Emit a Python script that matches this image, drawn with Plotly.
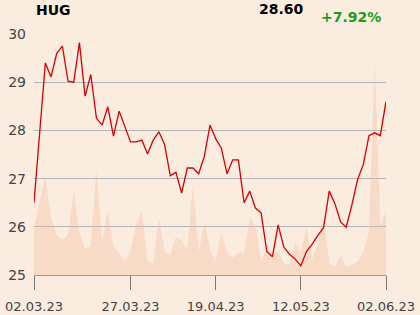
import plotly.graph_objects as go

symbol = "HUG"
price = [26.50, 27.92, 29.40, 29.11, 29.60, 29.75, 29.02, 29.00, 29.82, 28.71,
         29.16, 28.25, 28.11, 28.49, 27.88, 28.40, 28.07, 27.76, 27.76, 27.80,
         27.51, 27.80, 27.97, 27.71, 27.06, 27.13, 26.70, 27.22, 27.22, 27.10,
         27.46, 28.11, 27.83, 27.63, 27.10, 27.39, 27.39, 26.50, 26.74, 26.39,
         26.29, 25.49, 25.38, 26.04, 25.58, 25.43, 25.33, 25.19, 25.49, 25.64,
         25.82, 25.98, 26.74, 26.48, 26.10, 25.99, 26.46, 26.98, 27.29, 27.89,
         27.95, 27.89, 28.60]
volume = [48, 74, 99, 57, 39, 35, 40, 83, 42, 26,
          29, 105, 33, 64, 28, 22, 14, 24, 51, 63,
          14, 12, 57, 23, 20, 38, 34, 25, 91, 22,
          53, 25, 14, 42, 23, 17, 23, 22, 58, 48,
          14, 24, 19, 25, 12, 10, 32, 23, 47, 16,
          32, 59, 11, 9, 19, 8, 10, 14, 22, 43,
          215, 50, 63]
tick_pos = [0, 17, 32, 47, 62]
tick_labels = ["02.03.23", "27.03.23", "19.04.23", "12.05.23", "02.06.23"]
y_ticks = [25, 26, 27, 28, 29, 30]

idx = list(range(len(price)))
last = price[-1]
pct = (price[-1] / price[0] - 1) * 100

BG = "#FBECE0"
FONT = "DejaVu Sans"

fig = go.Figure()
fig.add_trace(go.Scatter(
    x=idx, y=volume, yaxis="y", mode="lines", line=dict(width=0),
    fill="tozeroy", fillcolor="rgba(240,188,154,0.36)", hoverinfo="skip",
))
fig.add_trace(go.Scatter(
    x=idx, y=price, yaxis="y2", mode="lines",
    line=dict(color="#D50000", width=1.3),
))

fig.update_layout(
    width=420, height=315,
    margin=dict(l=34, r=34, t=34, b=40),
    paper_bgcolor=BG, plot_bgcolor=BG,
    showlegend=False,
    font=dict(family=FONT, size=13, color="#444"),
    xaxis=dict(
        range=[0, len(price) - 1], tickvals=tick_pos, ticktext=tick_labels,
        showgrid=False, zeroline=False, ticks="outside", ticklen=14,
        tickcolor="#777", showline=True, linecolor="#999", linewidth=1,
        ticklabelstandoff=5,
        tickfont=dict(family=FONT, size=13, color="#444"), automargin=False,
    ),
    yaxis=dict(range=[0, 240], visible=False, showgrid=False, zeroline=False,
               automargin=False),
    yaxis2=dict(
        overlaying="y", side="left", range=[25, 30], tickvals=y_ticks,
        showgrid=True, gridcolor="#B4B4B4", gridwidth=1, zeroline=False,
        showline=False, ticks="", ticklabelstandoff=7, automargin=False,
        tickfont=dict(family=FONT, size=14, color="#444"),
    ),
    annotations=[
        dict(text="<b>%s</b>" % symbol, xref="paper", yref="paper", x=0, y=1,
             xanchor="left", yanchor="middle", yshift=24, showarrow=False,
             font=dict(family=FONT, size=14, color="#000")),
        dict(text="<b>%.2f</b>" % last, xref="paper", yref="paper", x=0.703, y=1,
             xanchor="center", yanchor="middle", yshift=25, showarrow=False,
             font=dict(family=FONT, size=14, color="#000")),
        dict(text="<b>%+.2f%%</b>" % pct, xref="paper", yref="paper", x=0.9, y=1,
             xanchor="center", yanchor="middle", yshift=17, showarrow=False,
             font=dict(family=FONT, size=14, color="#1A9E1A")),
    ],
)

fig.write_html("out.html")
